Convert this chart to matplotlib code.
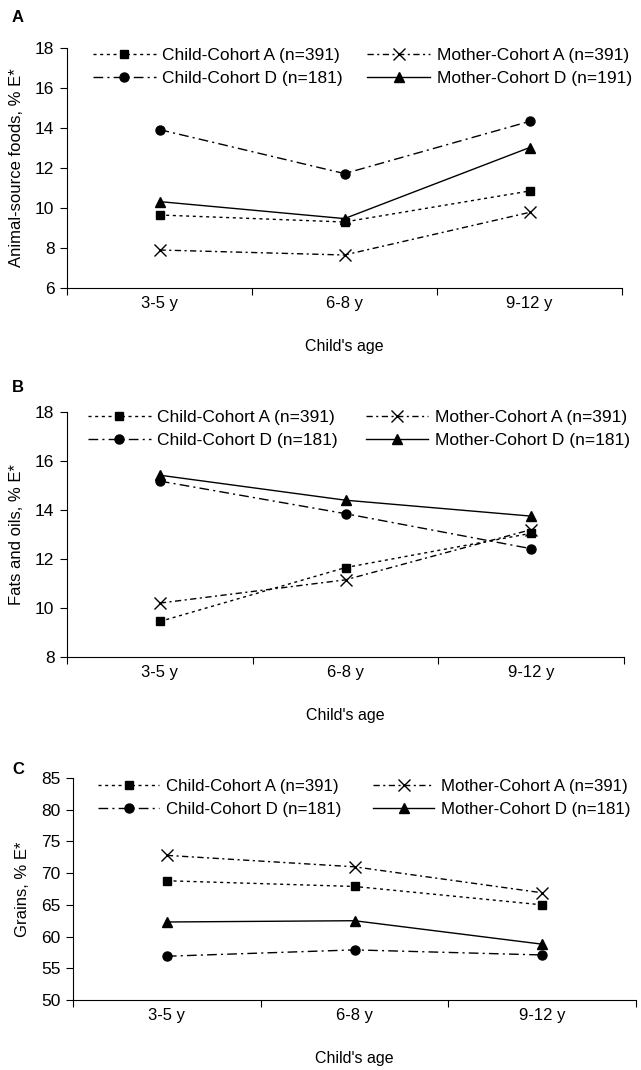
import numpy as np
import matplotlib
matplotlib.use("Agg")
import matplotlib.pyplot as plt
from matplotlib.ticker import FixedLocator, NullFormatter, FixedFormatter

plt.rcParams['font.family'] = ['Liberation Sans', 'DejaVu Sans']

ages = ['3-5 y', '6-8 y', '9-12 y']

# panel A: animal-source foods
a_child_a = [9.65, 9.3, 10.85]
a_mother_a = [7.9, 7.65, 9.78]
a_child_d = [13.92, 11.72, 14.33]
a_mother_d = [10.32, 9.47, 13.02]
a_labels = ['Child-Cohort A (n=391)', 'Child-Cohort D (n=181)',
            'Mother-Cohort A (n=391)', 'Mother-Cohort D (n=191)']

# panel B: fats and oils
b_child_a = [9.45, 11.65, 13.05]
b_mother_a = [10.2, 11.15, 13.2]
b_child_d = [15.18, 13.85, 12.42]
b_mother_d = [15.42, 14.4, 13.75]
b_labels = ['Child-Cohort A (n=391)', 'Child-Cohort D (n=181)',
            'Mother-Cohort A (n=391)', 'Mother-Cohort D (n=181)']

# panel C: grains
c_child_a = [68.8, 67.9, 65.0]
c_mother_a = [72.8, 71.0, 66.9]
c_child_d = [56.9, 57.9, 57.1]
c_mother_d = [62.3, 62.5, 58.8]
c_labels = b_labels

W, H = 641, 1070
fig = plt.figure(figsize=(W / 100, H / 100), dpi=100)


def rect(l, r, t, b):
    return [l / W, 1 - b / H, (r - l) / W, (b - t) / H]


styles = [
    dict(marker='s', ms=6, ls=(0, (2.2, 2.6))),
    dict(marker='o', ms=6.5, ls=(0, (7, 3, 1.5, 3))),
    dict(marker='x', ms=8, mew=1.0, ls=(0, (4.5, 2.5, 1.5, 2.5))),
    dict(marker='^', ms=7, ls='-'),
]


def panel(r, series, labels, ylim, ystep, ylabel, letter, leg_xy, colsp, legfs):
    ax = fig.add_axes(rect(*r))
    x = np.arange(len(ages))
    for vals, st, lab in zip(series, styles, labels):
        ax.plot(x, vals, color='black', lw=1.0, mfc='black', mec='black',
                label=lab, **st)
    ax.set_xlim(-0.5, 2.5)
    ax.set_ylim(*ylim)
    ax.set_yticks(np.arange(ylim[0], ylim[1] + 0.1, ystep))
    ax.xaxis.set_major_locator(FixedLocator([-0.5, 0.5, 1.5, 2.5]))
    ax.xaxis.set_major_formatter(NullFormatter())
    ax.xaxis.set_minor_locator(FixedLocator(x))
    ax.xaxis.set_minor_formatter(FixedFormatter(ages))
    ax.tick_params(axis='x', which='minor', length=0, pad=6, labelsize=12)
    ax.tick_params(axis='x', which='major', length=5, width=0.8)
    ax.tick_params(axis='y', length=5, width=0.8, labelsize=12.5, pad=4)
    for s in ['top', 'right']:
        ax.spines[s].set_visible(False)
    for s in ['left', 'bottom']:
        ax.spines[s].set_linewidth(0.8)
    ax.set_xlabel("Child's age", fontsize=11.5, labelpad=20)
    ax.set_ylabel(ylabel, fontsize=12, labelpad=8)
    ax.legend(loc='upper left', bbox_to_anchor=(leg_xy[0] / W, 1 - leg_xy[1] / H),
              bbox_transform=fig.transFigure, ncol=2, frameon=False,
              fontsize=legfs, handlelength=3.6, handletextpad=0.4,
              columnspacing=colsp, labelspacing=0.45, borderpad=0,
              borderaxespad=0)
    fig.text(12 / W, 1 - leg_xy[2] / H, letter, fontsize=12, fontweight='bold',
             va='center', ha='left')
    return ax


panel((67, 622, 48, 288), [a_child_a, a_child_d, a_mother_a, a_mother_d],
      a_labels, (6, 18), 2, 'Animal-source foods, % E*', 'A', (93, 48, 18), 1.4, 12.5)
panel((67, 624, 412, 657), [b_child_a, b_child_d, b_mother_a, b_mother_d],
      b_labels, (8, 18), 2, 'Fats and oils, % E*', 'B', (88, 410, 387), 1.6, 12.5)
panel((73, 636, 778, 1000), [c_child_a, c_child_d, c_mother_a, c_mother_d],
      c_labels, (50, 85), 5, 'Grains, % E*', 'C', (98, 779, 770), 1.9, 12.2)

fig.savefig('out.png', dpi=100)
